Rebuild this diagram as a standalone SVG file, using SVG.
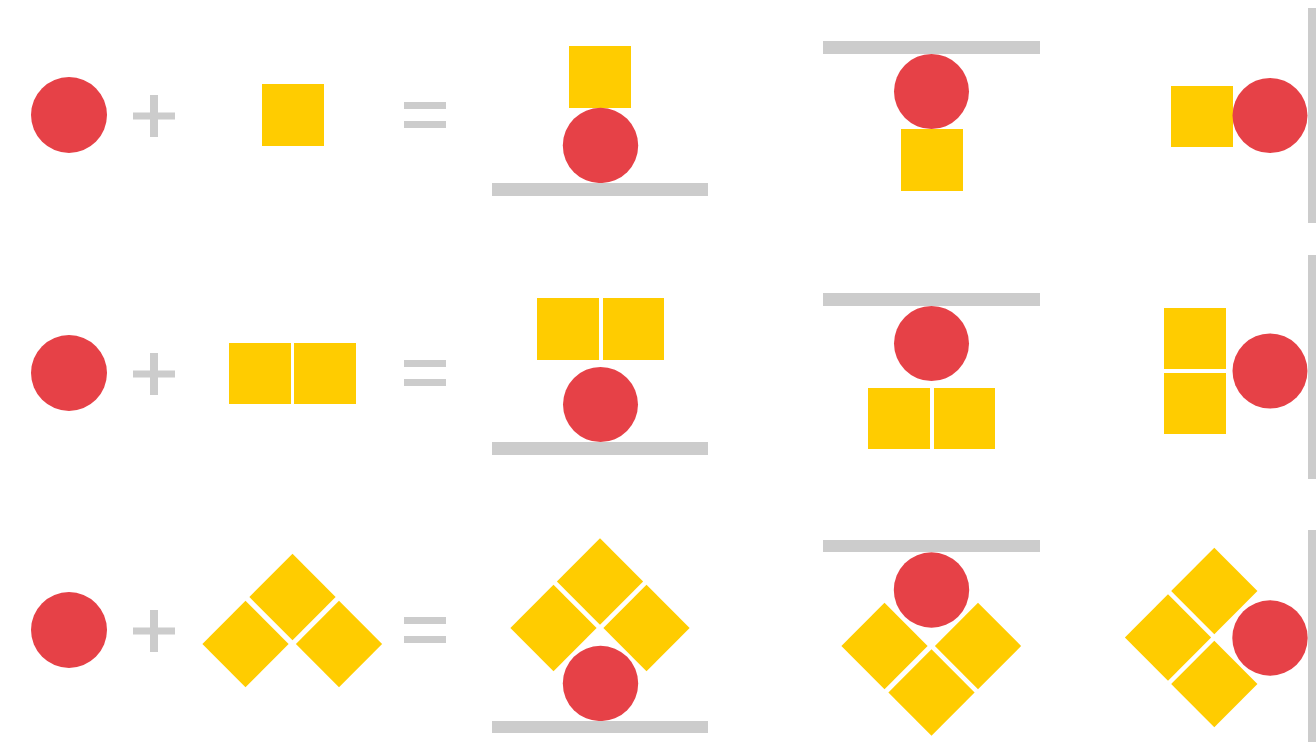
<svg xmlns="http://www.w3.org/2000/svg" xmlns:xlink="http://www.w3.org/1999/xlink" width="1316" height="742" viewBox="0 0 1316 742">
  <style>
    .ball { fill: #E64147; }
    .block { fill: #FFCC00; }
    .bar { fill: #CCCCCC; }
  </style>
  <defs>
    <rect id="dia" class="block" x="-30.5" y="-30.5" width="61" height="61" transform="rotate(45)"/>
    <g id="plus" class="bar">
      <rect x="-21" y="-3.5" width="42" height="7"/>
      <rect x="-4" y="-21" width="8" height="42"/>
    </g>
    <g id="equals" class="bar">
      <rect x="-21" y="-13" width="42" height="7"/>
      <rect x="-21" y="6" width="42" height="7"/>
    </g>
  </defs>
  <rect width="1316" height="742" fill="#FFFFFF"/>

  <!-- Row 1 -->
  <g id="row1-ball"><circle class="ball" cx="69" cy="115" r="38"/></g>
  <g id="row1-plus"><use xlink:href="#plus" x="154" y="116"/></g>
  <g id="row1-block"><rect class="block" x="262" y="84" width="62" height="62"/></g>
  <g id="row1-equals"><use xlink:href="#equals" x="425" y="115"/></g>
  <g id="row1-floor">
    <rect class="block" x="569" y="46" width="62" height="62"/>
    <circle class="ball" cx="600.5" cy="145.5" r="37.7"/>
    <rect class="bar" x="492" y="183" width="216" height="13"/>
  </g>
  <g id="row1-ceiling">
    <rect class="bar" x="823" y="41" width="217" height="13"/>
    <circle class="ball" cx="931.5" cy="91.5" r="37.5"/>
    <rect class="block" x="901" y="129" width="62" height="62"/>
  </g>
  <g id="row1-wall">
    <rect class="block" x="1171" y="86" width="62" height="61"/>
    <circle class="ball" cx="1270" cy="115.5" r="37.5"/>
    <rect class="bar" x="1308" y="8" width="13" height="215"/>
  </g>

  <!-- Row 2 -->
  <g id="row2-ball"><circle class="ball" cx="69" cy="373" r="38"/></g>
  <g id="row2-plus"><use xlink:href="#plus" x="154" y="374"/></g>
  <g id="row2-block">
    <rect class="block" x="229" y="343" width="62" height="61"/>
    <rect class="block" x="294" y="343" width="62" height="61"/>
  </g>
  <g id="row2-equals"><use xlink:href="#equals" x="425" y="373"/></g>
  <g id="row2-floor">
    <rect class="block" x="537" y="298" width="62" height="62"/>
    <rect class="block" x="603" y="298" width="61" height="62"/>
    <circle class="ball" cx="600.5" cy="404.5" r="37.5"/>
    <rect class="bar" x="492" y="442" width="216" height="13"/>
  </g>
  <g id="row2-ceiling">
    <rect class="bar" x="823" y="293" width="217" height="13"/>
    <circle class="ball" cx="931.5" cy="343.5" r="37.5"/>
    <rect class="block" x="868" y="388" width="62" height="61"/>
    <rect class="block" x="934" y="388" width="61" height="61"/>
  </g>
  <g id="row2-wall">
    <rect class="block" x="1164" y="308" width="62" height="61"/>
    <rect class="block" x="1164" y="373" width="62" height="61"/>
    <circle class="ball" cx="1270" cy="371" r="37.5"/>
    <rect class="bar" x="1308" y="255" width="13" height="224"/>
  </g>

  <!-- Row 3 -->
  <g id="row3-ball"><circle class="ball" cx="69" cy="630" r="38"/></g>
  <g id="row3-plus"><use xlink:href="#plus" x="154" y="631"/></g>
  <g id="row3-block">
    <use xlink:href="#dia" x="292.5" y="597"/>
    <use xlink:href="#dia" x="245.5" y="644"/>
    <use xlink:href="#dia" x="339" y="644"/>
  </g>
  <g id="row3-equals"><use xlink:href="#equals" x="425" y="630"/></g>
  <g id="row3-floor">
    <use xlink:href="#dia" x="600" y="581.5"/>
    <use xlink:href="#dia" x="553.5" y="628"/>
    <use xlink:href="#dia" x="646.5" y="628"/>
    <circle class="ball" cx="600.5" cy="683.5" r="37.7"/>
    <rect class="bar" x="492" y="721" width="216" height="12"/>
  </g>
  <g id="row3-ceiling">
    <rect class="bar" x="823" y="540" width="217" height="12"/>
    <circle class="ball" cx="931.5" cy="590" r="37.7"/>
    <use xlink:href="#dia" x="884.5" y="646"/>
    <use xlink:href="#dia" x="978" y="646"/>
    <use xlink:href="#dia" x="931.5" y="692.5"/>
  </g>
  <g id="row3-wall">
    <use xlink:href="#dia" x="1214.3" y="591"/>
    <use xlink:href="#dia" x="1168" y="637.5"/>
    <use xlink:href="#dia" x="1214.3" y="684"/>
    <circle class="ball" cx="1270" cy="638" r="37.7"/>
    <rect class="bar" x="1308" y="530" width="13" height="220"/>
  </g>
</svg>
